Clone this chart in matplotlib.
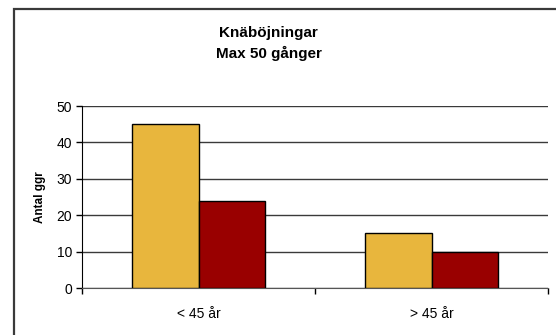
import matplotlib.pyplot as plt
import numpy as np
from matplotlib.patches import Rectangle

plt.rcParams['font.family'] = ['Liberation Sans', 'DejaVu Sans']

categories = ['< 45 år', '> 45 år']
series_a = [45, 15]
series_b = [24, 10]
y_ticks = [0, 10, 20, 30, 40, 50]

fig = plt.figure(figsize=(5.56, 3.35), dpi=100)
fig.patch.set_facecolor('white')

# frame around the chart (top and left edges visible)
fig.add_artist(Rectangle((14 / 556, -0.1), 1.2, (335 - 9) / 335 + 0.1,
                         transform=fig.transFigure, fill=False,
                         edgecolor='#3a3a3a', linewidth=1.6))

ax = fig.add_axes([82 / 556, 1 - 288 / 335, 466 / 556, 182 / 335])

x = np.arange(len(categories))
w = 0.2875
ax.bar(x - w / 2, series_a, width=w, color='#E8B63D', edgecolor='black', linewidth=1, zorder=3)
ax.bar(x + w / 2, series_b, width=w, color='#990000', edgecolor='black', linewidth=1, zorder=3)

ax.set_xlim(-0.5, 1.5)
ax.set_ylim(0, 50)
ax.set_yticks(y_ticks)
ax.yaxis.grid(True, color='#3a3a3a', linewidth=1)
ax.set_axisbelow(True)

# category boundaries as x ticks, labels centred in between
ax.set_xticks([-0.5, 0.5, 1.5])
ax.set_xticklabels([])
ax.set_xticks(x, minor=True)
ax.set_xticklabels(categories, minor=True, fontsize=10)
ax.tick_params(axis='x', which='minor', length=0, pad=14)
ax.tick_params(axis='x', which='major', length=4, width=1, color='black')
ax.tick_params(axis='y', length=4, width=1, labelsize=10, pad=3)

for s in ['top', 'right']:
    ax.spines[s].set_visible(False)
ax.spines['left'].set_color('black')
ax.spines['bottom'].set_color('#555555')

ax.set_ylabel('Antal ggr', fontsize=8.5, fontweight='bold', labelpad=8)

fig.text(268 / 556, 1 - 33 / 335, 'Knäböjningar', ha='center', va='center',
         fontsize=11, fontweight='bold')
fig.text(269 / 556, 1 - 53 / 335, 'Max 50 gånger', ha='center', va='center',
         fontsize=11, fontweight='bold')

fig.savefig('out.png', dpi=100)
